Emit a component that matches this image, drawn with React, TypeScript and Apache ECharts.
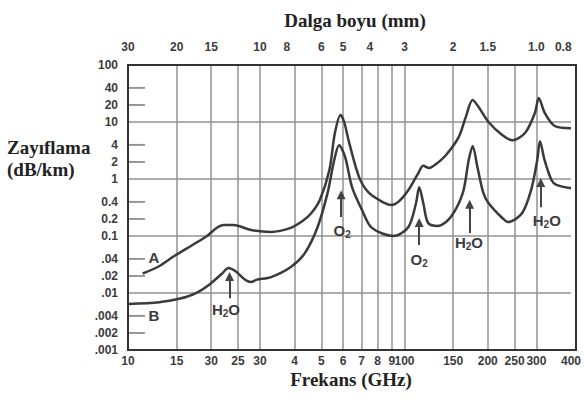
import React, { useEffect, useRef } from "react";
import * as echarts from "echarts";

// Bottom axis: frequency (GHz)
const freqTickValues = [10, 15, 20, 25, 30, 40, 50, 60, 70, 80, 90, 100, 150, 200, 250, 300, 400];
const freqTickLabels = ["10", "15", "30", "25", "30", "4", "5", "6", "7", "8", "9", "100", "150", "200", "250", "300", "400"];
const freqGridValues = [15, 20, 25, 30, 40, 50, 60, 70, 80, 90, 100, 150, 200, 250, 300];

// Top axis: wavelength (mm)
const wavelengthMm = [30, 20, 15, 10, 8, 6, 5, 4, 3, 2, 1.5, 1.0, 0.8];
const wavelengthLabels = ["30", "20", "15", "10", "8", "6", "5", "4", "3", "2", "1.5", "1.0", "0.8"];

// Left axis: attenuation (dB/km)
const attenTickValues = [0.001, 0.002, 0.004, 0.01, 0.02, 0.04, 0.1, 0.2, 0.4, 1, 2, 4, 10, 20, 40, 100];
const attenTickLabels = [".001", ".002", ".004", ".01", ".02", ".04", "0.1", "0.2", "0.4", "1", "2", "4", "10", "20", "40", "100"];
const attenMinorTicks = [0.002, 0.004, 0.02, 0.04, 0.2, 0.4, 2, 4, 20, 40];

// Curve A
const freqA = [11.3, 13.0, 14.7, 17.1, 19.3, 20.9, 22.2, 24.1, 27.9, 32.9, 38.8, 42.9, 45.8, 49.4, 53.5, 56.0, 58.7, 60.5, 63.1, 68.5, 74.4, 84.6, 89.8, 95.2, 103.3, 112.2, 116.9, 122.8, 130.1, 141.3, 157.2, 166.5, 176.4, 185.3, 201.2, 225.7, 245.1, 272.8, 296.1, 305.9, 321.4, 349.1, 400];
const valA = [0.022, 0.0298, 0.0445, 0.0695, 0.1, 0.138, 0.156, 0.156, 0.127, 0.118, 0.139, 0.185, 0.245, 0.43, 1.44, 6.4, 13.3, 10, 4.3, 1.08, 0.57, 0.38, 0.35, 0.4, 0.64, 1.27, 1.7, 1.56, 1.83, 2.64, 5.5, 12.2, 24.3, 18.3, 10, 5.9, 4.8, 6.4, 14.4, 26.4, 14.4, 8.5, 7.8];

// Curve B
const freqB = [10, 13.0, 14.7, 16.2, 17.9, 19.6, 21.8, 23.1, 24.5, 26.6, 27.9, 29.1, 32.9, 38.8, 43.6, 48.5, 52.7, 55.7, 58.0, 61.0, 64.6, 70.2, 76.2, 91.3, 103.3, 110.1, 113.0, 116.9, 121.8, 132.3, 147, 162.5, 170.7, 176.4, 183.5, 192.8, 201.2, 225.7, 237, 266, 287, 302, 309, 321, 340, 354, 400];
const valB = [0.0064, 0.0069, 0.0076, 0.0085, 0.0104, 0.0138, 0.0215, 0.0275, 0.024, 0.0169, 0.0156, 0.017, 0.019, 0.0286, 0.05, 0.144, 0.57, 2.15, 3.9, 2.43, 0.72, 0.286, 0.139, 0.1, 0.144, 0.38, 0.72, 0.38, 0.169, 0.15, 0.215, 0.57, 2.15, 3.8, 1.62, 0.57, 0.38, 0.207, 0.176, 0.25, 0.64, 2.15, 4.6, 2.15, 0.96, 0.79, 0.69];

// Absorption line annotations
const arrowFreq = [23.3, 59.0, 113, 172, 311];
const arrowTail = [0.0081, 0.215, 0.0695, 0.113, 0.32];
const arrowHead = [0.0194, 0.53, 0.172, 0.36, 0.87];
const gasNames = ["H2O", "O2", "O2", "H2O", "H2O"];
const gasLabelFreq = [22.6, 59.5, 113, 171, 327];
const gasLabelVal = [0.0052, 0.126, 0.038, 0.078, 0.19];

const curveNames = ["A", "B"];
const curveLabelFreq = [12.4, 12.4];
const curveLabelVal = [0.042, 0.0041];

const GRID = { left: 128, right: 8, top: 65, bottom: 58 };
const W = 584;
const H = 408;
// minor tick marks run from the left edge (10 GHz) to this frequency
const MINOR_TICK_END_FREQ = 11.5;
const MINOR_TICK_LEN = 17;

const labelFont = {
  fontFamily: "Liberation Sans",
  fontWeight: "bold" as const,
  fontSize: 12,
  color: "#3c3c3c",
};

function lookup(values: number[], labels: string[], v: number): string {
  for (let i = 0; i < values.length; i++) {
    if (Math.abs(Math.log10(values[i]) - Math.log10(v)) < 1e-4) return labels[i];
  }
  return "";
}

function gasRich(name: string): string {
  return name === "H2O" ? "{n|H}{s|2}{n|O}" : "{n|O}{s|2}";
}

export default function App() {
  const ref = useRef<HTMLDivElement>(null);

  useEffect(() => {
    if (!ref.current) return;
    const chart = echarts.init(ref.current, undefined, { renderer: "svg" });
    const waveFreqs = wavelengthMm.map((mm) => 300 / mm);

    const lineColor = "#3a3a3a";
    const gridColor = "#929292";

    const arrows = arrowFreq.map((f, i) => [
      { coord: [f, arrowTail[i]] },
      { coord: [f, arrowHead[i]] },
    ]);

    const minorTickLines = attenMinorTicks.map((v) => [
      { coord: [freqTickValues[0], v] },
      { coord: [MINOR_TICK_END_FREQ, v] },
    ]);

    const rich = {
      n: { fontFamily: "Liberation Sans", fontWeight: "bold", fontSize: 15, color: "#3c3c3c", lineHeight: 18 },
      s: { fontFamily: "Liberation Sans", fontWeight: "bold", fontSize: 10, color: "#3c3c3c", lineHeight: 10, verticalAlign: "bottom" },
    };

    const gasPoints = gasNames.map((g, i) => ({
      coord: [gasLabelFreq[i], gasLabelVal[i]],
      label: { formatter: gasRich(g) },
    }));
    const curvePoints = curveNames.map((c, i) => ({
      coord: [curveLabelFreq[i], curveLabelVal[i]],
      label: { formatter: "{n|" + c + "}" },
    }));

    const titleStyle = { fontFamily: "Liberation Serif", fontWeight: "bold", fontSize: 19, fill: "#222", verticalAlign: "middle" };
    const baseGraphics: any[] = [
      {
        type: "rect",
        z: 100,
        silent: true,
        shape: { x: GRID.left, y: GRID.top, width: W - GRID.left - GRID.right, height: H - GRID.top - GRID.bottom },
        style: { fill: "none", stroke: "#333", lineWidth: 2 },
      },
      { type: "text", x: 355, y: 20, style: { ...titleStyle, text: "Dalga boyu (mm)", align: "center" } },
      { type: "text", x: 351, y: 379, style: { ...titleStyle, text: "Frekans (GHz)", align: "center" } },
      { type: "text", x: 7, y: 147, style: { ...titleStyle, text: "Zayıflama", align: "left" } },
      { type: "text", x: 7, y: 169, style: { ...titleStyle, text: "(dB/km)", align: "left" } },
    ];

    chart.setOption({
      animation: false,
      grid: { ...GRID },
      xAxis: [
        {
          type: "log",
          logBase: 10,
          min: 10,
          max: 400,
          position: "bottom",
          axisLine: { show: false },
          axisTick: { show: false, customValues: freqGridValues },
          axisLabel: {
            ...labelFont,
            customValues: freqTickValues,
            formatter: (v: number) => lookup(freqTickValues, freqTickLabels, v),
            margin: 5,
            showMinLabel: true,
            showMaxLabel: true,
          },
          splitLine: { show: true, lineStyle: { color: gridColor, width: 1.5 } },
        },
        {
          type: "log",
          logBase: 10,
          min: 10,
          max: 400,
          position: "top",
          axisLine: { show: false },
          axisTick: { show: false },
          splitLine: { show: false },
          axisLabel: {
            ...labelFont,
            customValues: waveFreqs,
            formatter: (v: number) => lookup(waveFreqs, wavelengthLabels, v),
            margin: 12,
            showMinLabel: true,
            showMaxLabel: true,
          },
        },
      ],
      yAxis: [
        {
          type: "log",
          logBase: 10,
          min: 0.001,
          max: 100,
          splitNumber: 5,
          position: "left",
          axisLine: { show: false },
          axisTick: { show: false },
          axisLabel: {
            ...labelFont,
            customValues: attenTickValues,
            formatter: (v: number) => lookup(attenTickValues, attenTickLabels, v),
            margin: 10,
            showMinLabel: true,
            showMaxLabel: true,
          },
          splitLine: { show: true, lineStyle: { color: gridColor, width: 1.5 } },
        },
      ],
      series: [
        {
          type: "line",
          name: "A",
          data: freqA.map((f, i) => [f, valA[i]]),
          symbol: "none",
          smooth: 0.3,
          lineStyle: { color: lineColor, width: 2.5 },
          z: 5,
          markLine: {
            symbol: ["none", "none"],
            label: { show: false },
            lineStyle: { color: gridColor, width: 1.5, type: "solid" },
            data: minorTickLines,
          },
        },
        {
          type: "line",
          name: "B",
          data: freqB.map((f, i) => [f, valB[i]]),
          symbol: "none",
          smooth: 0.3,
          lineStyle: { color: lineColor, width: 2.5 },
          z: 5,
          markLine: {
            symbol: ["none", "triangle"],
            symbolSize: 9,
            label: { show: false },
            lineStyle: { color: "#444", width: 2, type: "solid" },
            itemStyle: { color: "#444" },
            data: arrows,
          },
          markPoint: {
            symbol: "circle",
            symbolSize: 0,
            label: { show: true, position: "inside", rich },
            data: [...gasPoints, ...curvePoints],
          },
        },
      ],
      graphic: baseGraphics,
    });

    // Inside minor tick marks, placed through the y scale (backup for the markLine ticks)
    const tickGraphics = attenMinorTicks.map((v) => {
      const y = chart.convertToPixel({ yAxisIndex: 0 }, v) as number;
      return {
        type: "line",
        shape: { x1: GRID.left, y1: y, x2: GRID.left + MINOR_TICK_LEN, y2: y },
        style: { stroke: gridColor, lineWidth: 1.5 },
      };
    });
    chart.setOption({ graphic: [...baseGraphics, ...tickGraphics] });

    return () => chart.dispose();
  }, []);

  return (
    <div
      ref={ref}
      style={{ position: "fixed", left: 0, top: 0, width: W, height: H, background: "#fff" }}
    />
  );
}
